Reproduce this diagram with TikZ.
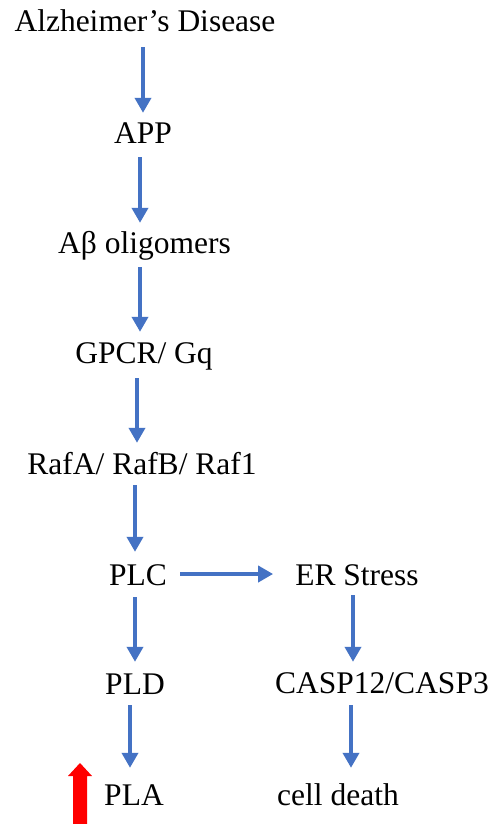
\documentclass[tikz,border=0pt]{standalone}
\usepackage{fontspec}
\setmainfont{Liberation Serif}
\usetikzlibrary{arrows.meta}
\definecolor{flowblue}{RGB}{68,114,196}
\definecolor{uparrow}{RGB}{255,0,0}
\begin{document}
\begin{tikzpicture}[x=1pt,y=-1pt,
  lbl/.style={inner sep=0pt, text height=22pt, text depth=7pt, anchor=base,
    font=\fontsize{31.5}{36}\selectfont},
  arr/.style={draw=flowblue, line width=4.3pt,
    -{Triangle[length=15pt,width=16pt]}}]
\useasboundingbox[fill=white] (0,0) rectangle (492,824);

% pathway labels
\node[lbl] (ad)   at (145,32)  {Alzheimer’s Disease};
\node[lbl] (app)  at (143,143) {APP};
\node[lbl] (abo)  at (144.5,253) {Aβ oligomers};
\node[lbl] (gpcr) at (144,363) {GPCR/ Gq};
\node[lbl] (raf)  at (142,474) {RafA/ RafB/ Raf1};
\node[lbl] (plc)  at (138,585) {PLC};
\node[lbl] (er)   at (357,585) {ER Stress};
\node[lbl] (pld)  at (135,694) {PLD};
\node[lbl, anchor=base west] (casp) at (275,693) {CASP12/CASP3};
\node[lbl] (pla)  at (134,805) {PLA};
\node[lbl] (cd)   at (338,805) {cell death};

% main cascade
\draw[arr] ([shift={(-2,8)}]ad.south)   -- ([shift={(0,-8)}]app.north);
\draw[arr] ([shift={(-3,7)}]app.south)  -- ([shift={(-4.5,-8)}]abo.north);
\draw[arr] ([shift={(-4.5,7)}]abo.south) -- ([shift={(-4,-9)}]gpcr.north);
\draw[arr] ([shift={(-7,8)}]gpcr.south) -- ([shift={(-5,-9)}]raf.north);
\draw[arr] ([shift={(-7,4)}]raf.south)  -- ([shift={(-3,-11)}]plc.north);
\draw[arr] ([shift={(13,-3.5)}]plc.east) -- ([shift={(-22,-3.5)}]er.west);
\draw[arr] ([shift={(-3,5)}]plc.south)  -- ([shift={(0,-10)}]pld.north);
\draw[arr] ([shift={(-5,4)}]pld.south)  -- ([shift={(-4,-15)}]pla.north);

% stress branch
\draw[arr] (er.south -| 353,0) ++(0,3) -- ([shift={(0,-9)}]casp.north -| 353,0);
\draw[arr] ([shift={(0,5)}]casp.south -| 351,0) -- ([shift={(0,-15)}]cd.north -| 351,0);

% red up arrow beside PLA
\fill[uparrow] (73,824) -- (73,776) -- (68,776) -- (80,763) -- (92,776)
  -- (87,776) -- (87,824) -- cycle;
\end{tikzpicture}
\end{document}
